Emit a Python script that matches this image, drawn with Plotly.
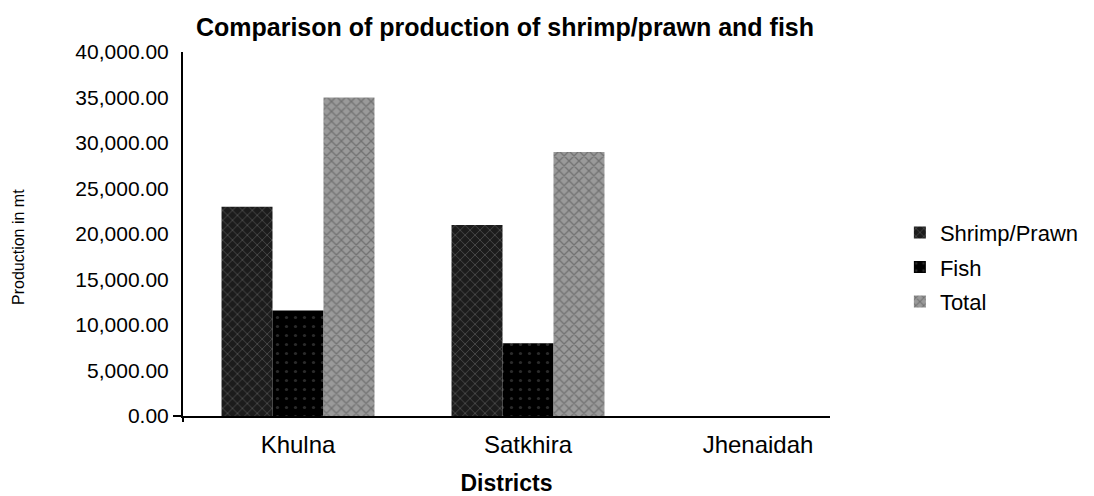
import plotly.graph_objects as go

districts = ["Khulna", "Satkhira", "Jhenaidah"]
shrimp = [23000, 21000, 0]
fish = [11600, 8000, 0]
total = [35000, 29000, 0]
y_ticks = [0, 5000, 10000, 15000, 20000, 25000, 30000, 35000, 40000]

fig = go.Figure()
fig.add_trace(go.Bar(name="Shrimp/Prawn", x=districts, y=shrimp, legendgroup="a",
                     marker=dict(color="#1c1c1c", line=dict(width=0),
                                 pattern=dict(shape="x", fgcolor="#777777", bgcolor="#1c1c1c", size=7, solidity=0.25))))
fig.add_trace(go.Bar(name="Fish", x=districts, y=fish, legendgroup="b",
                     marker=dict(color="#000000", line=dict(width=0),
                                 pattern=dict(shape=".", fgcolor="#555555", bgcolor="#000000", size=9, solidity=0.1))))
fig.add_trace(go.Bar(name="Total", x=districts, y=total, legendgroup="c",
                     marker=dict(color="#7a7a7a", line=dict(width=0),
                                 pattern=dict(shape="x", fgcolor="#4a4a4a", bgcolor="#9a9a9a", size=7, solidity=0.35))))

W, H = 1086, 488
L, R, T, B = 175, 264, 44, 80
PW, PH = W - L - R, H - T - B

fig.update_layout(
    width=W, height=H,
    paper_bgcolor="white", plot_bgcolor="white",
    font=dict(family="Liberation Sans, Arial, sans-serif", size=21, color="black"),
    margin=dict(l=L, r=R, t=T, b=B, autoexpand=False),
    barmode="group", bargap=0.335, bargroupgap=0,
    title=dict(text="<b>Comparison of production of shrimp/prawn and fish</b>",
               x=497/W, xanchor="center", y=1-19/H, yanchor="middle",
               font=dict(size=25)),
    legend=dict(x=1.108, xanchor="left", y=0.409, yanchor="middle",
                font=dict(size=22), tracegroupgap=3, itemsizing="constant",
                bgcolor="rgba(0,0,0,0)"),
    xaxis=dict(showline=True, linecolor="black", linewidth=2, showgrid=False,
               automargin=False, ticklabelstandoff=6,
               range=[-0.5, 2.313], ticks="", tickfont=dict(size=24),
               title=dict(text="<b>Districts</b>", font=dict(size=23), standoff=23)),
    yaxis=dict(range=[0, 40000], tickvals=y_ticks, tickformat=",.2f",
               automargin=False,
               showline=True, linecolor="black", linewidth=2, showgrid=False,
               ticks="outside", ticklen=8, tickcolor="rgba(0,0,0,0)", zeroline=False,
               tickfont=dict(size=21)),
    annotations=[dict(text="Production in mt", textangle=-90, showarrow=False,
                      xref="paper", yref="paper", x=(18 - 8 - L) / PW, y=(416 - 247) / PH,
                      xanchor="center", yanchor="middle", font=dict(size=16))],
    shapes=[
        dict(type="line", xref="paper", yref="paper", x0=-10 / PW, x1=0, y0=0, y1=0,
             line=dict(color="black", width=2)),
        dict(type="line", xref="paper", yref="paper", x0=0, x1=0, y0=0, y1=-6 / PH,
             line=dict(color="black", width=2)),
    ],
)

fig.write_html("out.html")
